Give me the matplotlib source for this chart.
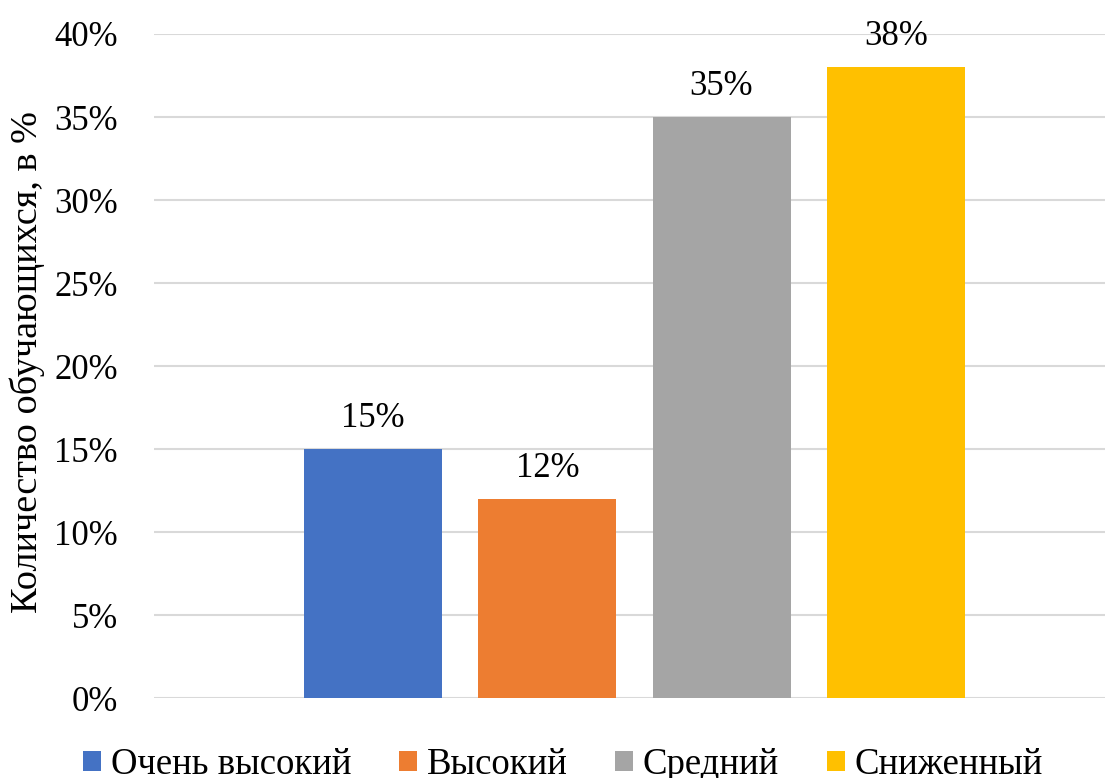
import matplotlib.pyplot as plt
from matplotlib.patches import Patch
from matplotlib.ticker import FuncFormatter, MultipleLocator

# --- data ---
LEVELS = ["Очень высокий", "Высокий", "Средний", "Сниженный"]
SHARES = [0.15, 0.12, 0.35, 0.38]
COLORS = ["#4472C4", "#ED7D31", "#A5A5A5", "#FFC000"]
Y_LABEL = "Количество обучающихся, в %"

# --- style ---
FONT = "Liberation Serif"
FS = 25
FS_LEGEND = 26.5
FS_YLABEL = 27.5
plt.rcParams["font.family"] = [FONT, "DejaVu Serif"]

fig = plt.figure(figsize=(11.05, 7.78), dpi=100)
ax = fig.add_axes([0.1394, 0.1028, 0.8696, 0.8535])

x = list(range(len(LEVELS)))
bars = ax.bar(x, SHARES, width=0.793, color=COLORS, zorder=3)

for b, v in zip(bars, SHARES):
    ax.annotate(f"{v * 100:.0f}%", (b.get_x() + b.get_width() / 2, v),
                xytext=(0, 10), textcoords="offset points",
                ha="center", va="bottom", fontsize=FS)

ax.set_xlim(-1.259, 4.259)
ax.set_ylim(0, 0.40)
ax.yaxis.set_major_locator(MultipleLocator(0.05))
ax.yaxis.set_major_formatter(FuncFormatter(lambda v, _: f"{v * 100:.0f}%"))
ax.grid(axis="y", color="#D9D9D9", linewidth=1.5, zorder=0)
ax.set_xticks([])
ax.tick_params(axis="y", length=0, pad=26, labelsize=FS)
for s in ax.spines.values():
    s.set_visible(False)

fig.text(27 / 1105, 1 - 362 / 778, Y_LABEL, rotation=90,
         ha="center", va="center", fontsize=FS_YLABEL)

handles = [Patch(facecolor=c) for c in COLORS]
fig.legend(handles, LEVELS, loc="center", ncol=4, frameon=False,
           bbox_to_anchor=(563 / 1105, 1 - 765 / 778), fontsize=FS_LEGEND,
           handlelength=0.48, handleheight=0.48, handletextpad=0.27,
           columnspacing=1.3, borderpad=0)

plt.savefig("out.png", dpi=100)
plt.close()
